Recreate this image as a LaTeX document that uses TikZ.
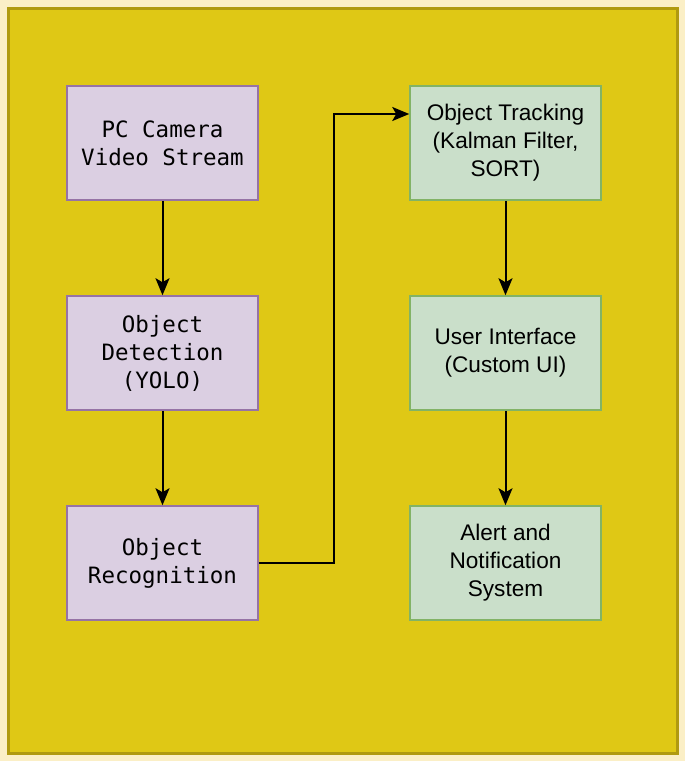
\documentclass[tikz,border=0pt]{standalone}
\usepackage{fontspec}
\setmainfont{Liberation Sans}
\newfontfamily\monofont{DejaVu Sans Mono}
\usetikzlibrary{arrows.meta}
\definecolor{cream}{HTML}{FBEFC6}
\definecolor{ylw}{HTML}{DFC815}
\definecolor{ylwline}{HTML}{B09A10}
\definecolor{purfill}{HTML}{DBCFE2}
\definecolor{purline}{HTML}{9673A6}
\definecolor{grnfill}{HTML}{CADFCA}
\definecolor{grnline}{HTML}{82B366}
\tikzset{
  box/.style={minimum width=191pt, minimum height=114pt, inner sep=0pt, line width=1.5pt, align=center},
  pbox/.style={box, fill=purfill, draw=purline, font=\monofont\fontsize{22.5}{28}\selectfont},
  gbox/.style={box, fill=grnfill, draw=grnline, font=\fontsize{22.6}{28}\selectfont},
  arr/.style={line width=2pt, -{Stealth[length=17pt,width=14pt,inset=4pt]}}
}
\begin{document}
\begin{tikzpicture}[x=1pt,y=-1pt]
\fill[cream] (0,0) rectangle (685,761);
\useasboundingbox (0,0) rectangle (685,761);
\draw[fill=ylw, draw=ylwline, line width=3pt] (8,8) rectangle (677,753);
\node[pbox] (cam) at (162.5,143) {PC Camera\\Video Stream};
\node[pbox] (det) at (162.5,353) {Object\\Detection\\(YOLO)};
\node[pbox] (rec) at (162.5,563) {Object\\Recognition};
\node[gbox] (trk) at (505.5,143) {Object Tracking\\(Kalman Filter,\\SORT)};
\node[gbox] (ui) at (505.5,353) {User Interface\\(Custom UI)};
\node[gbox] (alert) at (505.5,563) {Alert and\\Notification\\System};
\draw[arr] (cam) -- (det);
\draw[arr] (det) -- (rec);
\draw[arr] (rec.east) -- (334,563) -- (334,114) -- (trk.west |- 0,114);
\draw[arr] (trk) -- (ui);
\draw[arr] (ui) -- (alert);
\end{tikzpicture}
\end{document}
